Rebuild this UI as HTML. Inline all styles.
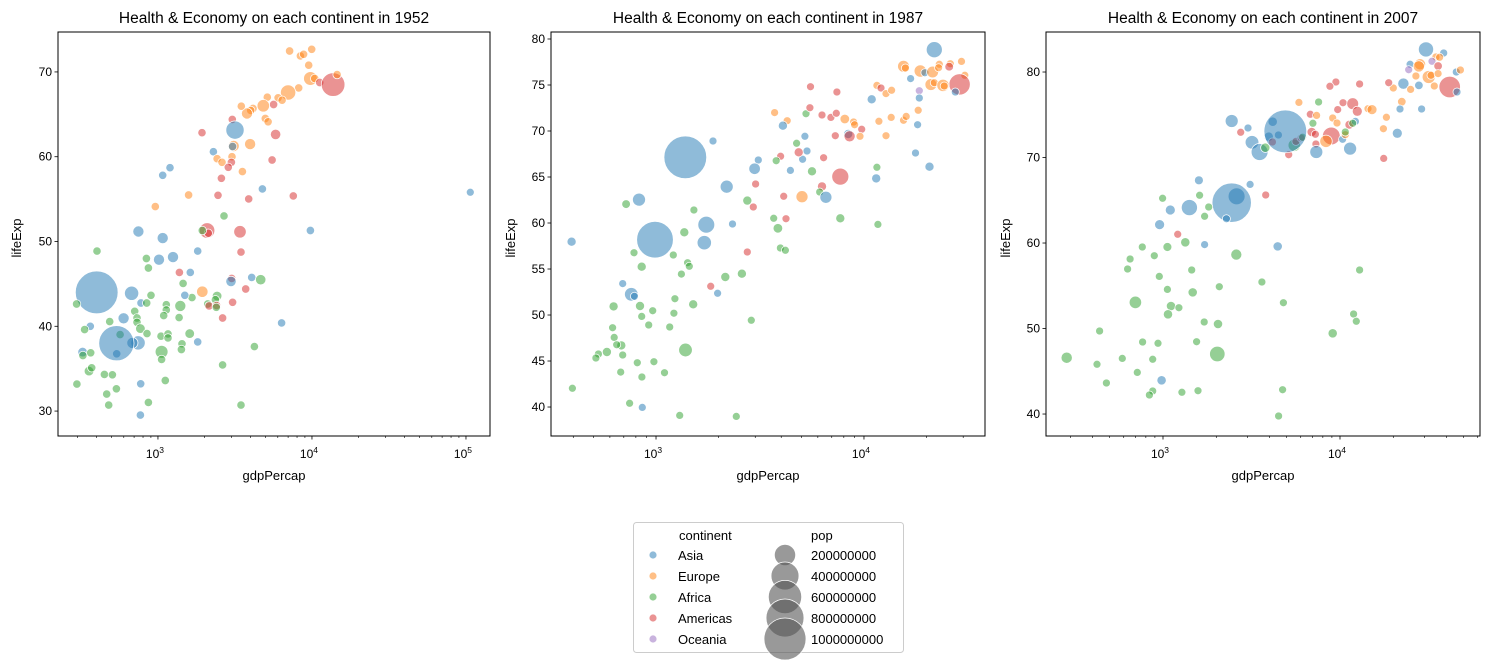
<!DOCTYPE html>
<html><head><meta charset="utf-8">
<style>
body{margin:0;background:#fff;}
svg{display:block;font-family:"Liberation Sans","DejaVu Sans",sans-serif;}
</style></head>
<body>
<svg id="fig" width="1489" height="662" viewBox="0 0 1489 662" xmlns="http://www.w3.org/2000/svg"></svg>
<script>
// ---------- data ----------
const continentNames = ["Asia","Europe","Africa","Americas","Oceania"];
const legendPops = [200000000,400000000,600000000,800000000,1000000000];
const years = [1952,1987,2007];

const cont1952 = ("EEEEEEEMME"+"EEEEEMEEEE"+"EMEEMMAEAE"+"AEEEMMEMMA"+"AAEMMMAEFM"+"MFMAAAMFFA"+"AFAMAAFMAF"+"MEFFFAFAAF"+"AFFFFFMMFM"+"FFFMAFFFAA"+"FFFFAAFFFF"+"AFFFFFAAFF"+"AFFFFFAFFF"+"FFFFA").split("");
const gdpLog1952 = [3.855,3.925,3.946,3.998,3.979,3.990,4.018,4.050,4.137,4.163,
3.914,3.845,3.780,3.806,3.710,3.751,3.684,3.617,3.602,3.578,
3.541,3.483,3.697,3.715,3.764,3.286,3.500,3.492,3.485,3.598,
3.360,3.384,3.416,3.481,3.477,3.457,3.548,3.741,3.412,3.078,
3.031,3.678,3.199,3.390,3.589,3.879,5.028,2.983,3.429,3.319,
3.327,3.288,3.533,2.873,3.031,3.990,3.539,2.604,2.925,3.007,
3.098,2.938,3.258,3.139,3.210,3.609,3.667,3.479,3.474,3.163,
3.570,3.288,3.384,3.373,3.221,3.174,2.955,2.829,2.602,2.472,
2.890,2.927,3.054,3.054,3.145,3.323,3.332,3.381,3.379,3.485,
2.849,3.037,3.137,3.420,2.777,2.864,2.864,2.687,3.803,2.561,
2.524,2.886,2.929,2.754,2.871,2.834,3.020,3.065,3.065,3.206,
3.258,3.156,3.152,3.024,3.024,3.626,2.732,2.511,2.513,2.563,
2.730,2.552,2.570,2.652,2.704,2.474,2.888,3.048,3.420,2.730,
2.667,2.680,2.938,3.539,2.886];
const life1952 = [72.47,71.89,72.08,72.67,70.79,69.22,69.22,68.75,68.51,69.69,
68.12,67.57,66.95,66.67,67.02,66.16,66.0,65.69,65.46,65.1,
65.96,64.4,64.51,64.12,62.63,62.83,63.14,61.26,61.2,61.49,
60.59,59.77,59.34,60.0,59.34,58.75,58.24,59.61,57.45,58.71,
57.81,56.2,55.49,55.45,55.02,55.38,55.8,54.12,53.02,51.3,
50.98,51.3,51.14,51.18,50.4,51.3,48.75,48.87,48.0,47.85,
48.16,46.87,48.87,46.36,46.36,45.77,45.49,45.65,45.3,45.06,
44.4,44.08,43.57,43.14,43.38,43.65,43.65,43.89,44.0,42.63,
42.75,42.75,42.55,41.93,42.4,42.63,42.4,42.44,42.24,42.83,
41.77,41.26,41.02,40.98,40.94,40.98,40.47,40.55,40.4,40.0,
39.61,39.73,39.14,39.02,38.04,38.04,38.83,39.1,38.63,39.14,
38.16,37.93,37.26,36.99,36.09,37.61,36.75,36.95,36.55,36.87,
38.0,34.71,35.1,34.32,34.28,33.18,33.22,33.61,35.45,32.63,
32.0,30.71,31.02,30.71,29.53];
const popM1952 = [3,3,3,3,3,40,3,3,157,3,
3,55,3,3,3,3,30,3,3,20,
3,3,3,3,15,3,86,20,3,20,
3,3,3,3,3,3,3,3,3,3,
3,3,3,3,3,3,1,3,3,56,
3,3,30,20,20,3,3,3,3,20,
20,3,3,3,3,3,15,3,15,3,
3,22,10,3,3,3,3,45,556,3,
3,3,3,3,20,3,3,3,3,3,
3,3,3,3,20,3,3,3,3,3,
3,10,3,3,45,20,3,3,3,10,
3,3,3,33,3,3,3,10,3,3,
372,10,3,3,3,3,3,3,3,3,
3,3,3,3,3];

const cont1987 = ("AEEEAEEEEM"+"EEMEEEEAOA"+"AEAAAEMEEA"+"EEEEEMMEEA"+"FMMMMEEEMA"+"MEMAFAAMMM"+"FFAAAMFAAA"+"MMFAEMFMFF"+"FMFAFFAAAA"+"FAFFFFFFFF"+"MFFAAAMAFF"+"FFFFFFFFFF"+"FFFFFFFFFF"+"FFFFAFF"+"A").split("");
const gdpLog1987 = [4.338,4.190,4.199,4.271,4.293,4.330,4.362,4.359,4.415,4.410,
4.469,4.485,4.460,4.322,4.338,4.380,4.386,4.439,4.266,4.266,
4.224,4.261,4.258,4.248,4.315,4.062,4.082,4.106,4.133,4.037,
4.190,4.203,4.131,4.072,4.106,3.743,3.870,3.570,3.631,3.610,
3.721,3.740,3.798,3.841,3.867,3.908,3.950,3.955,3.989,3.924,
3.931,3.981,3.862,3.716,3.676,3.726,3.705,3.686,3.599,3.806,
3.578,3.750,3.646,3.492,3.474,3.886,4.062,4.059,3.274,3.340,
3.479,3.798,3.787,3.817,3.702,3.614,3.439,3.468,3.886,4.067,
3.566,3.625,3.586,2.918,2.856,3.182,3.242,3.368,3.232,2.995,
3.136,2.594,2.894,3.083,3.152,3.160,2.931,3.122,3.333,3.413,
3.439,3.598,3.622,2.840,2.881,2.896,3.263,3.296,3.091,3.179,
3.086,2.796,2.923,2.984,2.931,2.965,3.066,2.791,2.799,2.833,
2.811,2.840,2.764,2.723,2.711,3.142,2.910,2.990,3.041,2.932,
2.830,3.458,2.598,2.873,2.934,3.114,3.386,
3.141];
const life1987 = [78.84,77.03,76.85,76.52,76.34,76.41,77.25,76.88,77.32,76.99,
77.57,76.05,75.07,75.04,75.25,74.96,74.89,74.24,74.38,73.59,
75.69,72.25,70.69,67.61,66.12,74.96,74.67,74.06,74.42,73.44,
71.16,71.59,71.48,71.05,69.49,74.82,74.24,72.0,71.12,70.58,
71.88,72.53,71.74,71.48,71.92,71.3,70.98,70.69,70.18,69.67,
69.42,69.42,69.49,69.42,68.66,67.83,66.92,67.68,67.25,67.1,
66.77,65.62,65.72,66.85,65.9,65.04,66.05,64.85,68.91,63.95,
64.24,63.98,63.37,62.79,62.86,62.9,62.43,61.74,60.51,59.85,
60.51,60.47,59.42,62.54,62.06,61.41,59.82,59.89,57.86,58.19,
58.99,57.97,56.77,56.52,55.69,55.29,55.25,54.45,54.13,54.49,
56.85,57.28,57.03,53.41,52.25,52.03,53.12,52.36,51.77,51.16,
50.2,50.94,50.98,50.47,49.85,48.91,48.7,48.62,47.57,46.7,
46.77,45.65,45.98,45.76,45.33,46.2,44.82,44.93,43.73,43.26,
43.8,49.42,42.03,40.4,39.96,39.09,38.98,
67.14];
const popM1987 = [122,50,3,57,3,50,3,3,3,10,
3,3,242,50,3,57,3,3,3,3,
3,3,3,3,15,3,3,3,3,15,
3,3,3,3,3,3,3,3,3,15,
3,3,3,3,3,20,3,3,3,15,
40,3,3,3,3,3,3,15,3,3,
3,15,3,3,45,142,3,15,3,68,
3,15,3,53,53,3,15,3,15,3,
3,3,20,68,10,3,138,3,90,788,
15,15,3,3,3,3,15,3,15,15,
3,3,3,3,78,3,3,3,3,15,
3,15,15,3,3,3,3,3,3,15,
3,3,15,3,3,78,3,3,3,3,
3,3,3,3,3,3,3,
1084];

const cont2007 = ("AAEEOEAOEE"+"EEMEEAEMAA"+"AEMEEAAEEA"+"MMMMEFMMME"+"EMEEMAFMEF"+"MMMEMAAEFA"+"AAMAAFAAAM"+"FMMFMAAAAA"+"AMAAAFFFFM"+"FAAFFFFFFF"+"FFFFFFFFFF"+"FFFFFFFFFF"+"FFFFFFFAFF"+"FFFF").split("");
const gdpLog2007 = [4.486,4.586,4.542,4.563,4.520,4.452,4.396,4.388,4.429,4.445,
4.501,4.514,4.554,4.554,4.533,4.657,4.680,4.620,4.661,4.446,
4.358,4.301,4.275,4.399,4.349,4.339,4.461,4.262,4.245,4.324,
4.247,4.111,3.977,3.943,3.768,3.879,4.017,4.072,4.098,4.158,
4.181,3.987,3.959,3.983,4.053,4.087,4.072,3.832,3.868,3.847,
3.840,3.861,3.951,3.921,3.864,3.866,4.015,4.030,4.030,4.057,
3.388,3.480,3.439,3.503,3.546,3.578,3.620,3.597,3.652,3.618,
3.742,3.751,3.780,3.789,3.710,3.691,3.203,3.492,3.416,3.388,
3.358,3.580,3.149,3.041,2.981,2.998,3.207,3.258,3.235,3.083,
3.126,3.235,3.648,2.883,3.025,2.814,2.951,2.800,3.414,3.162,
4.111,2.979,3.559,3.025,3.168,3.318,2.844,3.045,3.090,3.028,
3.680,4.077,4.092,3.233,3.311,3.959,2.642,2.885,2.972,3.190,
3.307,2.456,2.770,2.942,2.627,2.855,2.680,2.992,2.942,2.923,
3.107,3.198,3.676,3.653];
const life2007 = [82.65,82.22,81.76,81.72,81.25,80.9,80.9,80.27,79.53,80.66,
79.42,79.61,80.7,79.81,78.36,80.0,80.24,78.25,77.66,78.44,
78.64,78.13,78.75,77.97,76.53,75.67,75.67,74.7,73.37,72.83,
69.9,78.6,78.83,78.33,76.45,76.49,76.41,76.3,75.4,75.71,
75.6,75.6,74.62,74.04,73.84,74.23,74.0,75.05,74.93,74.0,
72.98,72.71,72.52,71.9,71.58,70.65,72.13,72.67,72.98,71.04,
74.27,73.45,72.95,71.78,70.65,71.15,74.19,72.44,72.63,71.81,
71.43,71.89,72.28,72.36,70.33,73.06,67.33,66.86,65.46,64.72,
62.85,65.62,64.14,63.86,62.15,65.23,65.58,64.21,63.12,61.02,
60.08,59.81,59.61,59.53,59.53,58.13,58.52,56.96,58.64,56.84,
56.84,56.1,55.44,54.58,54.23,54.89,53.06,52.63,52.44,51.66,
53.02,51.7,50.84,50.76,50.53,49.44,49.71,48.42,48.27,48.46,
47.02,46.59,46.51,46.4,45.81,44.87,43.63,43.94,42.69,42.22,
42.54,42.73,42.85,39.77];
const popM2007 = [127,3,3,3,3,50,3,3,3,50,
82,3,10,3,3,3,3,301,3,10,
50,3,3,3,10,3,3,3,3,30,
3,3,3,3,3,3,3,60,30,3,
30,3,3,3,15,3,3,3,3,3,
20,3,190,71,3,82,3,3,3,82,
82,3,3,95,168,20,20,20,3,3,
71,3,3,3,3,1319,15,3,169,1110,
3,3,150,30,30,3,3,3,3,3,
20,3,20,3,15,3,3,3,47,3,
3,3,3,3,20,3,71,20,3,20,
3,3,3,3,20,20,3,3,3,3,
135,50,3,3,3,3,3,20,3,3,
3,3,3,3];

const yTicks1952 = [30,40,50,60,70];
const yTicks1987 = [40,45,50,55,60,65,70,75,80];
const yTicks2007 = [40,50,60,70,80];
const xTicksExp1952 = [3,4,5];
const xTicksExp1987 = [3,4];
const xTicksExp2007 = [3,4];

// ---------- layout (not data) ----------
const colors = {A:"#1f77b4",E:"#ff7f0e",F:"#2ca02c",M:"#d62728",O:"#9467bd"};
const codeNames = {A:"asia",E:"europe",F:"africa",M:"americas",O:"oceania"};
const panels = [
 {x0:58,x1:490,y0:32,y1:436,lgMin:2.351,lgMax:5.156,yMin:27.06,yMax:74.71,cont:cont1952,gdp:gdpLog1952,life:life1952,pop:popM1952,yt:yTicks1952,xt:xTicksExp1952,ylx:17},
 {x0:551,x1:985,y0:32,y1:436,lgMin:2.495,lgMax:4.582,yMin:36.85,yMax:80.76,cont:cont1987,gdp:gdpLog1987,life:life1987,pop:popM1987,yt:yTicks1987,xt:xTicksExp1987,ylx:511},
 {x0:1046,x1:1480,y0:32,y1:436,lgMin:2.339,lgMax:4.791,yMin:37.43,yMax:84.68,cont:cont2007,gdp:gdpLog2007,life:life2007,pop:popM2007,yt:yTicks2007,xt:xTicksExp2007,ylx:1006}
];
const NS="http://www.w3.org/2000/svg";
const svg=document.getElementById('fig');
function mk(tag,attrs,parent){const e=document.createElementNS(NS,tag);for(const k in attrs)e.setAttribute(k,attrs[k]);(parent||svg).appendChild(e);return e;}

panels.forEach((p,pi)=>{
  const g=mk('g',{});
  
  
  const xs=lg=>p.x0+(lg-p.lgMin)/(p.lgMax-p.lgMin)*(p.x1-p.x0);
  const ys=v=>p.y1-(v-p.yMin)/(p.yMax-p.yMin)*(p.y1-p.y0);
  const pmax=Math.max(...p.pop), pmin=Math.min(...p.pop);
  const rs=v=>Math.sqrt(16+440*(v-pmin)/(pmax-pmin));
  const pts=mk('g',{},g);
  
  
  for(let i=0;i<p.gdp.length;i++){
    const c=p.cont[i];
    const el=mk('circle',{cx:xs(p.gdp[i]).toFixed(1),cy:ys(p.life[i]).toFixed(1),r:rs(p.pop[i]).toFixed(2),fill:colors[c],'fill-opacity':0.5,stroke:'#fff','stroke-width':0.75},pts);
    
    
  }
  const fr=mk('rect',{x:p.x0,y:p.y0,width:p.x1-p.x0,height:p.y1-p.y0,fill:'none',stroke:'#000','stroke-width':1},g);
  
  
  p.yt.forEach(v=>{
    const y=ys(v);
    mk('line',{x1:p.x0-3.5,x2:p.x0,y1:y,y2:y,stroke:'#000','stroke-width':0.8},g);
    const t=mk('text',{x:p.x0-6,y:y+4,'text-anchor':'end','font-size':12,fill:'#000'},g);
    t.textContent=v;
    
    
  });
  for(let e=2;e<=5;e++){for(let k=2;k<=9;k++){const lg=e+Math.log10(k);if(lg>p.lgMin&&lg<p.lgMax){const x=xs(lg);mk('line',{x1:x,x2:x,y1:p.y1,y2:p.y1+2,stroke:'#000','stroke-width':0.6},g);}}}
  p.xt.forEach(e=>{
    const x=xs(e);
    mk('line',{x1:x,x2:x,y1:p.y1,y2:p.y1+3.5,stroke:'#000','stroke-width':0.8},g);
    const t=mk('text',{x:x-3,y:p.y1+22,'text-anchor':'middle','font-size':12,fill:'#000'},g);
    t.textContent='10';
    const s=mk('tspan',{dy:-5,'font-size':8.5},t);
    s.textContent=e;
    
    
  });
  const cx=(p.x0+p.x1)/2;
  const xl=mk('text',{x:cx,y:480,'text-anchor':'middle','font-size':13,fill:'#000'},g);
  xl.textContent='gdpPercap';
  
  
  const yl=mk('text',{x:p.ylx,y:234,'text-anchor':'middle','font-size':13,fill:'#000',transform:'rotate(-90 '+(p.ylx+4)+' 234)'},g);
  yl.textContent='lifeExp';
  
  
  const tt=mk('text',{x:cx,y:23,'text-anchor':'middle','font-size':15.5,fill:'#000'},g);
  tt.textContent='Health & Economy on each continent in '+years[pi];
  
  
});

const lg=mk('g',{});


mk('rect',{x:633.5,y:522.5,width:270,height:130,rx:3,fill:'#fff',stroke:'#ccc','stroke-width':1},lg);
const h1=mk('text',{x:679,y:540,'font-size':13,fill:'#000'},lg);h1.textContent='continent';


const h2=mk('text',{x:811,y:540,'font-size':13,fill:'#000'},lg);h2.textContent='pop';


const codes=['A','E','F','M','O'];
continentNames.forEach((n,i)=>{
  const y=555+i*21;
  const d=mk('circle',{cx:653,cy:y,r:3.6,fill:colors[codes[i]],'fill-opacity':0.5},lg);
  
  
  const t=mk('text',{x:678,y:y+5,'font-size':13,fill:'#000'},lg);t.textContent=n;
  
  
});
legendPops.forEach((v,i)=>{
  const y=555+i*21;
  const r=Math.sqrt(31+0.41*v/1e6);
  const c=mk('circle',{cx:785,cy:y,r:r.toFixed(2),fill:'#555','fill-opacity':0.6,stroke:'#fff','stroke-width':0.75},lg);
  
  
  const t=mk('text',{x:811,y:y+5,'font-size':13,fill:'#000'},lg);t.textContent=v;
  
  
});
</script>
</body></html>
